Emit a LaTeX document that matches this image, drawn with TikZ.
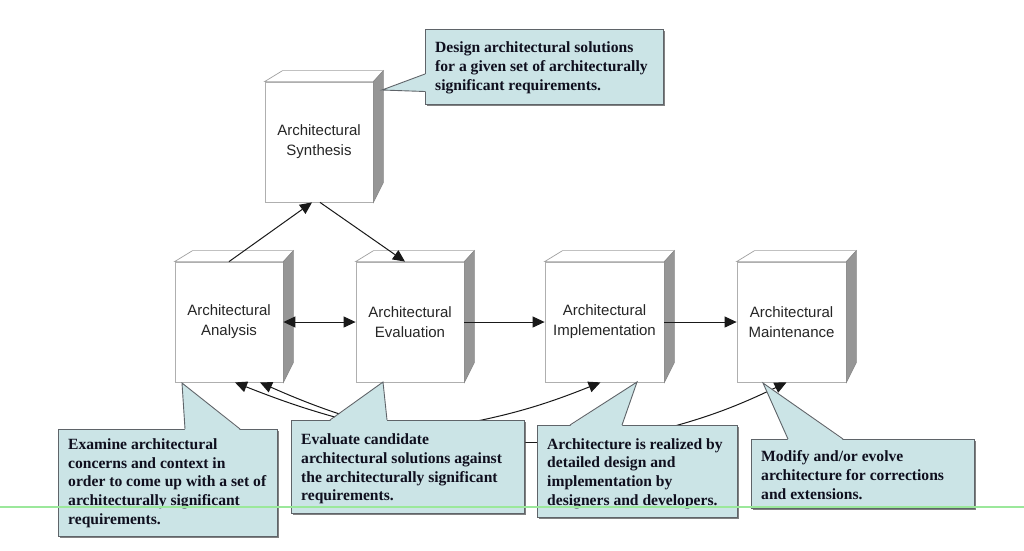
\documentclass[tikz,border=0pt]{standalone}
\usepackage{fontspec}
\setmainfont{Liberation Serif}
\setsansfont{Liberation Sans}
\usetikzlibrary{arrows.meta,calc,shadows}
\definecolor{callfill}{RGB}{203,228,230}
\definecolor{callborder}{RGB}{95,100,105}
\definecolor{sideface}{RGB}{150,150,150}
\definecolor{frontedge}{RGB}{175,175,175}
\definecolor{topedge}{RGB}{160,160,160}
\definecolor{calltextcol}{RGB}{15,15,30}
\definecolor{greenline}{RGB}{155,232,155}
\begin{document}
\begin{tikzpicture}[x=1pt,y=-1pt,
  cube/.style={draw=frontedge, fill=white, line width=0.8pt, minimum height=120pt,
    inner sep=0pt, align=center, font=\fontsize{15}{20}\sffamily\selectfont, text=black!85},
  callbox/.style={draw=callborder, fill=callfill, line width=0.9pt, anchor=north west,
    inner sep=0pt, drop shadow={shadow xshift=1.3pt, shadow yshift=-1.3pt, opacity=0.7, fill=black!70}},
  calltxt/.style={anchor=west, align=left, inner sep=0pt,
    font=\fontsize{15.6}{18.7}\selectfont\bfseries, text=calltextcol},
  ptredge/.style={draw=callborder, line width=0.9pt},
  conn/.style={line width=1pt, draw=black!90},
  tip/.style={-{Triangle[length=12pt,width=11pt]}},
  dtip/.style={{Triangle[length=12pt,width=11pt]}-{Triangle[length=12pt,width=11pt]}},
]
\useasboundingbox (0,0) rectangle (1024,550);
\fill[white] (0,0) rectangle (1024,550);

% cubes
\node[cube, minimum width=108pt] (syn) at (319,142) {Architectural\\Synthesis};
\node[cube, minimum width=108pt] (ana) at (229,322) {Architectural\\Analysis};
\node[cube, minimum width=108pt] (eval) at (410,322) {Architectural\\Evaluation};
\node[cube, minimum width=119pt] (impl) at (604.5,322) {Architectural\\Implementation};
\node[cube, minimum width=109pt] (maint) at (791.5,322) {Architectural\\Maintenance};
\foreach \n in {syn,ana,eval,impl,maint}{
  \filldraw[fill=white, draw=topedge, line width=0.7pt]
    (\n.north west) -- ($(\n.north west)+(18,-11)$) -- ($(\n.north east)+(10,-11)$) -- (\n.north east) -- cycle;
  \filldraw[fill=sideface, draw=sideface!90!black, line width=0.5pt]
    (\n.north east) -- ($(\n.north east)+(10,-11)$) -- ($(\n.north east)+(10,101)$) -- (\n.south east) -- cycle;
}

% connectors between cubes
\draw[conn,tip] (ana.north) -- ([xshift=-7pt]syn.south);
\draw[conn,tip] ([xshift=1pt]syn.south) -- ([xshift=-5pt]eval.north);
\draw[conn,dtip] (ana.east) -- (eval.west);
\draw[conn,tip] (eval.east) -- (impl.west);
\draw[conn,tip] (impl.east) -- (maint.west);

% feedback curves (partly hidden behind callouts)
\coordinate (h1) at (385,430);
\coordinate (h2) at (392,430);
\coordinate (h3) at (440,428);
\coordinate (h4) at (640,435);
\coordinate (hl1) at (500,442);
\coordinate (hl2) at (560,442);
\draw[conn,tip] (h1) to[bend left=4] ([xshift=6pt]ana.south);
\draw[conn,tip] (h2) to[bend left=4] ([xshift=31pt]ana.south);
\draw[conn,tip] (h3) to[bend right=6] ([xshift=-4pt]impl.south);
\draw[conn,tip] (h4) to[bend right=6] ([xshift=-5pt]maint.south);
\draw[conn] (hl1) -- (hl2);

% callouts
\node[callbox, minimum width=238pt, minimum height=75pt] (c1) at (425,29) {};
\fill[callfill] (426,74) -- (382,90) -- (426,91.5) -- cycle;
\draw[ptredge] (425,74) -- (382,90) -- (425,91.5);
\node[calltxt] at ([xshift=10pt,yshift=-1pt]c1.west) {Design architectural solutions\\for a given set of architecturally\\significant requirements.};

\node[callbox, minimum width=219pt, minimum height=107pt] (c2) at (58,429) {};
\fill[callfill] (185,430) -- (182,383) -- (240,430) -- cycle;
\draw[ptredge] (185,429) -- (182,383) -- (240,429);
\node[calltxt] at ([xshift=10pt]c2.west) {Examine architectural\\concerns and context in\\order to come up with a set of\\architecturally significant\\requirements.};

\node[callbox, minimum width=233pt, minimum height=93pt] (c3) at (291,420) {};
\fill[callfill] (330,421) -- (383,382) -- (387,421) -- cycle;
\draw[ptredge] (330,420) -- (383,382) -- (387,420);
\node[calltxt] at ([xshift=10pt,yshift=-2pt]c3.west) {Evaluate candidate\\architectural solutions against\\the architecturally significant\\requirements.};

\node[callbox, minimum width=200pt, minimum height=92pt] (c4) at (537,425) {};
\fill[callfill] (570,426) -- (637,382) -- (622,426) -- cycle;
\draw[ptredge] (570,425) -- (637,382) -- (622,425);
\node[calltxt] at ([xshift=10pt,yshift=-2pt]c4.west) {Architecture is realized by\\detailed design and\\implementation by\\designers and developers.};

\node[callbox, minimum width=223pt, minimum height=69pt] (c5) at (751,439) {};
\fill[callfill] (788,440) -- (763,383) -- (843,440) -- cycle;
\draw[ptredge] (788,439) -- (763,383) -- (843,439);
\node[calltxt] at ([xshift=10pt,yshift=-1pt]c5.west) {Modify and/or evolve\\architecture for corrections\\and extensions.};

% thin green line across the picture
\coordinate (g1) at (0,507);
\coordinate (g2) at (1024,507);
\draw[greenline, line width=1.2pt] (g1) -- (g2);
\end{tikzpicture}
\end{document}
